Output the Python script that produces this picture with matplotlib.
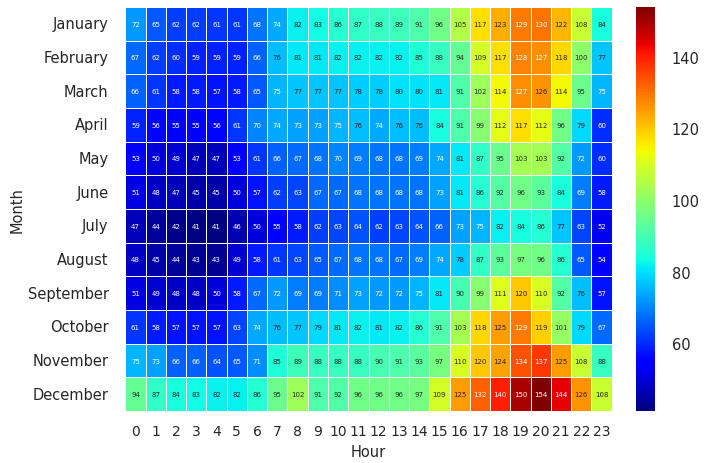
import matplotlib
matplotlib.use("Agg")
import matplotlib.pyplot as plt
import numpy as np
import seaborn as sns

months = ["January", "February", "March", "April", "May", "June", "July",
          "August", "September", "October", "November", "December"]
hours = list(range(24))

jan = [72, 65, 62, 62, 61, 61, 68, 74, 82, 83, 86, 87, 88, 89, 91, 96, 105, 117, 123, 129, 130, 122, 108, 84]
feb = [67, 62, 60, 59, 59, 59, 66, 76, 81, 81, 82, 82, 82, 82, 85, 88, 94, 109, 117, 128, 127, 118, 100, 77]
mar = [66, 61, 58, 58, 57, 58, 65, 75, 77, 77, 77, 78, 78, 80, 80, 81, 91, 102, 114, 127, 126, 114, 95, 75]
apr = [59, 56, 55, 55, 56, 61, 70, 74, 73, 73, 75, 76, 74, 76, 76, 84, 91, 99, 112, 117, 112, 96, 79, 60]
may = [53, 50, 49, 47, 47, 53, 61, 66, 67, 68, 70, 69, 68, 68, 69, 74, 81, 87, 95, 103, 103, 92, 72, 60]
jun = [51, 48, 47, 45, 45, 50, 57, 62, 63, 67, 67, 68, 68, 68, 68, 73, 81, 86, 92, 96, 93, 84, 69, 58]
jul = [47, 44, 42, 41, 41, 46, 50, 55, 58, 62, 63, 64, 62, 63, 64, 66, 73, 75, 82, 84, 86, 77, 63, 52]
aug = [48, 45, 44, 43, 43, 49, 58, 61, 63, 65, 67, 68, 68, 67, 69, 74, 78, 87, 93, 97, 96, 86, 65, 54]
sep = [51, 49, 48, 48, 50, 58, 67, 72, 69, 69, 71, 73, 72, 72, 75, 81, 90, 99, 111, 120, 110, 92, 76, 57]
oct_ = [61, 58, 57, 57, 57, 63, 74, 76, 77, 79, 81, 82, 81, 82, 86, 91, 103, 118, 125, 129, 119, 101, 79, 67]
nov = [75, 73, 66, 66, 64, 65, 71, 85, 89, 88, 88, 88, 90, 91, 93, 97, 110, 120, 124, 134, 137, 125, 108, 88]
dec = [94, 87, 84, 83, 82, 82, 86, 95, 102, 91, 92, 96, 96, 96, 97, 109, 125, 132, 140, 150, 154, 144, 126, 108]

data = np.array([jan, feb, mar, apr, may, jun, jul, aug, sep, oct_, nov, dec])

sns.set_theme(style="white")
plt.rcParams['font.family'] = ['DejaVu Sans']

fig = plt.figure(figsize=(7.08, 4.64), dpi=100)
ax = fig.add_axes([0.177, 0.112, 0.687, 0.871])
cax = fig.add_axes([0.898, 0.112, 0.027, 0.871])

sns.heatmap(data, ax=ax, cbar_ax=cax, cmap="jet", annot=True, fmt="d",
            annot_kws={"fontsize": 5}, linewidths=0.5, linecolor="white",
            xticklabels=hours, yticklabels=months)

ax.set_xlabel("Hour", fontsize=10.5, labelpad=5)
ax.set_ylabel("Month", fontsize=10.5, labelpad=2)
ax.tick_params(axis="y", labelsize=10.5, length=0, pad=12)
ax.tick_params(axis="x", labelsize=10, length=0, pad=9)
plt.setp(ax.get_yticklabels(), rotation=0)
plt.setp(ax.get_xticklabels(), rotation=0)
cax.tick_params(labelsize=10.5, length=0, pad=12)

fig.savefig("out.png", dpi=100)
